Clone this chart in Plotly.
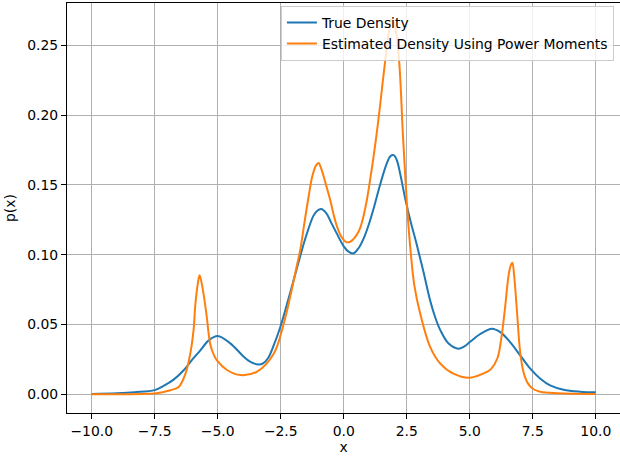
import plotly.graph_objects as go

# True density
true_x = [-10.0, -9.0, -8.3, -7.5, -7.15, -6.75, -6.35, -6.09, -5.69, -5.36, -5.0, -4.5, -4.0, -3.7, -3.38,
          -3.2, -3.0, -2.78, -2.52, -2.12, -1.72, -1.5, -1.2, -1.05, -0.9, -0.7, -0.5, -0.3, 0.0, 0.2, 0.39,
          0.6, 0.8, 1.0, 1.2, 1.45, 1.7, 1.85, 1.98, 2.1, 2.25, 2.44, 2.65, 2.9, 3.16, 3.43, 3.63, 3.83, 4.15,
          4.53, 4.8, 5.0, 5.4, 5.88, 6.21, 6.6, 7.0, 7.4, 7.8, 8.19, 8.72, 9.38, 10.0]
true_y = [0.0003, 0.0008, 0.0015, 0.003, 0.006, 0.0105, 0.0172, 0.0231, 0.0315, 0.0386, 0.0417, 0.0365, 0.0275, 0.0232, 0.0214,
          0.0222, 0.026, 0.035, 0.048, 0.0731, 0.0994, 0.113, 0.128, 0.1315, 0.1328, 0.130, 0.123, 0.116, 0.106, 0.102, 0.101,
          0.105, 0.112, 0.122, 0.134, 0.1506, 0.165, 0.1705, 0.1713, 0.168, 0.157, 0.14, 0.124, 0.107, 0.088, 0.067, 0.055, 0.046, 0.0365,
          0.0327, 0.0345, 0.0374, 0.043, 0.047, 0.0445, 0.0374, 0.0279, 0.0184, 0.0112, 0.0064, 0.0033, 0.0019, 0.0014]

# Estimated density using power moments
est_x = [-10.0, -8.0, -7.5, -6.88, -6.55, -6.28, -6.09, -5.96, -5.89, -5.8, -5.72, -5.62, -5.46, -5.29, -5.15, -5.04,
         -4.63, -4.1, -3.44, -2.78, -2.39, -2.1, -1.85, -1.72, -1.55, -1.4, -1.25, -1.1, -1.0, -0.9, -0.75, -0.55,
         -0.3, -0.1, 0.1, 0.28, 0.6, 0.85, 1.1, 1.35, 1.6, 1.78, 1.91, 2.05, 2.2, 2.35, 2.5, 2.65, 2.8, 3.03,
         3.43, 3.83, 4.35, 5.0, 5.68, 5.84, 6.1, 6.25, 6.4, 6.53, 6.62, 6.69, 6.76, 6.87, 7.0, 7.13, 7.3, 7.5,
         7.8, 8.5, 10.0]
est_y = [0.0, 0.0003, 0.0006, 0.0029, 0.0052, 0.0148, 0.029, 0.0458, 0.0638, 0.078, 0.0853, 0.078, 0.059, 0.0353, 0.028, 0.0245,
         0.0174, 0.0138, 0.0162, 0.029, 0.05, 0.072, 0.093, 0.104, 0.124, 0.141, 0.156, 0.164, 0.1657, 0.162, 0.153, 0.14,
         0.122, 0.113, 0.109, 0.1096, 0.117, 0.133, 0.16, 0.193, 0.232, 0.258, 0.2686, 0.262, 0.238, 0.185, 0.138, 0.103, 0.078, 0.058,
         0.0338, 0.022, 0.0148, 0.0119, 0.016, 0.018, 0.026, 0.04, 0.062, 0.084, 0.092, 0.0942, 0.085, 0.06, 0.03, 0.016, 0.008, 0.004,
         0.0018, 0.0008, 0.0003]

x_ticks = [-10, -7.5, -5, -2.5, 0, 2.5, 5, 7.5, 10]
x_tick_labels = ["\u221210.0", "\u22127.5", "\u22125.0", "\u22122.5", "0.0", "2.5", "5.0", "7.5", "10.0"]
y_ticks = [0.0, 0.05, 0.10, 0.15, 0.20, 0.25]
y_tick_labels = ["0.00", "0.05", "0.10", "0.15", "0.20", "0.25"]

FONT = "DejaVu Sans"
FS = 13.9

fig = go.Figure()
fig.add_trace(go.Scatter(x=true_x, y=true_y, mode="lines", name="True Density",
                         line=dict(color="#1f77b4", width=2, shape="spline", smoothing=1.0)))
fig.add_trace(go.Scatter(x=est_x, y=est_y, mode="lines", name="Estimated Density Using Power Moments",
                         line=dict(color="#ff7f0e", width=2, shape="spline", smoothing=1.0)))

fig.update_layout(
    width=620, height=456,
    margin=dict(l=67, r=0, t=3, b=43),
    paper_bgcolor="white", plot_bgcolor="white",
    font=dict(family=FONT, size=FS, color="black"),
    showlegend=True,
    legend=dict(x=0.989, y=0.993, xanchor="right", yanchor="top",
                bgcolor="rgba(255,255,255,0.8)", bordercolor="#cccccc", borderwidth=1,
                font=dict(family=FONT, size=FS, color="black"),
                tracegroupgap=0, itemwidth=30),
    xaxis=dict(range=[-10.98, 10.96], tickvals=x_ticks, ticktext=x_tick_labels,
               showgrid=True, gridcolor="#b0b0b0", gridwidth=0.8,
               showline=True, linecolor="black", linewidth=1, mirror=True,
               ticks="outside", ticklen=5, tickcolor="black", zeroline=False,
               title=dict(text="x", standoff=4, font=dict(family=FONT, size=FS))),
    yaxis=dict(range=[-0.0134, 0.2803], tickvals=y_ticks, ticktext=y_tick_labels,
               showgrid=True, gridcolor="#b0b0b0", gridwidth=0.8,
               showline=True, linecolor="black", linewidth=1, mirror=False,
               ticks="outside", ticklen=5, tickcolor="black", zeroline=False,
               title=dict(text="p(x)", standoff=8, font=dict(family=FONT, size=FS))),
)

fig.write_html("out.html", config={"displayModeBar": False},
               post_script="document.body.style.margin='0';document.body.style.overflow='hidden';")
